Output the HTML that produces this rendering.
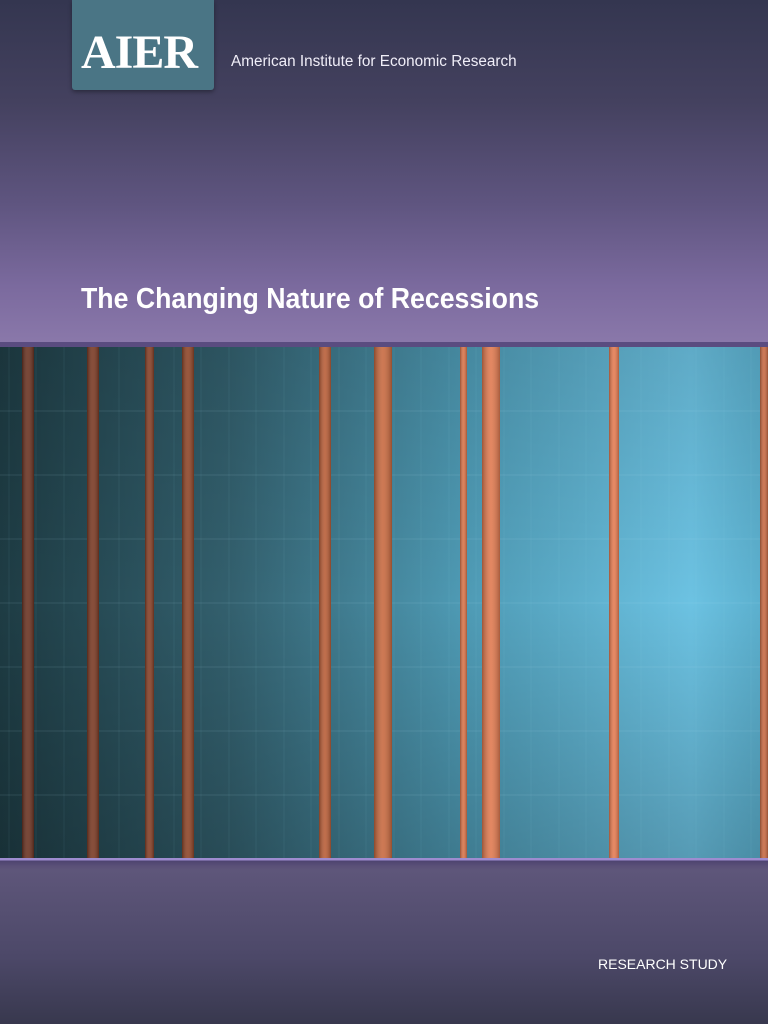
<!DOCTYPE html>
<html><head><meta charset="utf-8"><style>
html,body{margin:0;padding:0}
body{width:768px;height:1024px;position:relative;overflow:hidden;font-family:"Liberation Sans",sans-serif;
background:linear-gradient(180deg,#343650 0%,#44415f 10%,#5f5580 20%,#7b6a9e 28%,#8a78aa 33.5%);}
.logo{position:absolute;left:72px;top:0;width:142px;height:90px;background:#4a7585;box-shadow:0 2px 4px rgba(0,0,0,.35);border-radius:0 0 3px 3px}
.logo span{position:absolute;left:9px;top:25px;font-family:"Liberation Serif",serif;font-size:48px;color:#fff;letter-spacing:-1px;font-weight:bold}
.tag{position:absolute;left:231px;top:53px;font-size:15.3px;color:#f0eef8}
.title{position:absolute;left:81px;top:283px;font-size:29px;font-weight:bold;color:#fff;transform:scaleX(.92);transform-origin:left}
.bottom{position:absolute;left:0;top:858px;width:768px;height:166px;background:linear-gradient(180deg,#9e8cd0 0,#9e8cd0 2px,#4e4470 3px,#5a5078 8px,#5e567a 12px,#4c4868 60%,#38384e 100%)}
.rs{position:absolute;left:598px;top:956px;font-size:14px;color:#fff}
svg{position:absolute;left:0;top:342px}
</style></head><body>
<div class="logo"><span>AIER</span></div>
<div class="tag">American Institute for Economic Research</div>
<div class="title">The Changing Nature of Recessions</div>
<svg width="768" height="516" viewBox="0 342 768 516">
<defs>
<linearGradient id="bg" x1="0" y1="0" x2="1" y2="0">
<stop offset="0" stop-color="#1e3c44"/><stop offset=".3" stop-color="#33606e"/><stop offset=".6" stop-color="#4e9ab4"/><stop offset=".9" stop-color="#6cc2e2"/><stop offset="1" stop-color="#5aaecc"/>
</linearGradient>
<linearGradient id="vs" x1="0" y1="0" x2="0" y2="1">
<stop offset="0" stop-color="#000" stop-opacity=".12"/><stop offset=".5" stop-color="#000" stop-opacity="0"/><stop offset="1" stop-color="#000" stop-opacity=".2"/>
</linearGradient>
<linearGradient id="st" x1="0" y1="0" x2="1" y2="0">
<stop offset="0" stop-color="#000" stop-opacity=".3"/><stop offset=".5" stop-color="#fff" stop-opacity=".1"/><stop offset="1" stop-color="#000" stop-opacity=".25"/>
</linearGradient>
</defs>
<rect x="0" y="342" width="768" height="5" fill="#5a4c80"/>
<rect x="0" y="347" width="768" height="511" fill="url(#bg)"/>
<rect x="0" y="347" width="768" height="511" fill="url(#vs)"/>
<g stroke="#9fdcf0" stroke-opacity=".07" stroke-width="1">
<path d="M9 347V858M36 347V858M64 347V858M91 347V858M119 347V858M146 347V858M174 347V858M201 347V858M229 347V858M256 347V858M284 347V858M311 347V858M339 347V858M366 347V858M394 347V858M421 347V858M449 347V858M476 347V858M504 347V858M531 347V858M559 347V858M586 347V858M614 347V858M641 347V858M669 347V858M696 347V858M724 347V858M751 347V858"/>
</g>
<g stroke="#bfeaf8" stroke-opacity=".12" stroke-width="1">
<path d="M0 411H768M0 475H768M0 539H768M0 603H768M0 667H768M0 731H768M0 795H768"/>
</g>
<g>
<rect x="22" y="347" width="12" height="511" fill="#6a3322"/>
<rect x="87" y="347" width="12" height="511" fill="#7a3a24"/>
<rect x="145" y="347" width="9" height="511" fill="#843f26"/>
<rect x="182" y="347" width="12" height="511" fill="#8e4528"/>
<rect x="319" y="347" width="12" height="511" fill="#b85e38"/>
<rect x="374" y="347" width="18" height="511" fill="#c86a40"/>
<rect x="460" y="347" width="7" height="511" fill="#d8744a"/>
<rect x="482" y="347" width="18" height="511" fill="#e07a50"/>
<rect x="609" y="347" width="10" height="511" fill="#e47c52"/>
<rect x="760" y="347" width="8" height="511" fill="#c86a44"/>
</g>
<g fill="url(#st)">
<rect x="22" y="347" width="12" height="511"/><rect x="87" y="347" width="12" height="511"/><rect x="145" y="347" width="9" height="511"/><rect x="182" y="347" width="12" height="511"/><rect x="319" y="347" width="12" height="511"/><rect x="374" y="347" width="18" height="511"/><rect x="460" y="347" width="7" height="511"/><rect x="482" y="347" width="18" height="511"/><rect x="609" y="347" width="10" height="511"/><rect x="760" y="347" width="8" height="511"/>
</g>
</svg>
<div class="bottom"></div>
<div class="rs">RESEARCH STUDY</div>
</body></html>
